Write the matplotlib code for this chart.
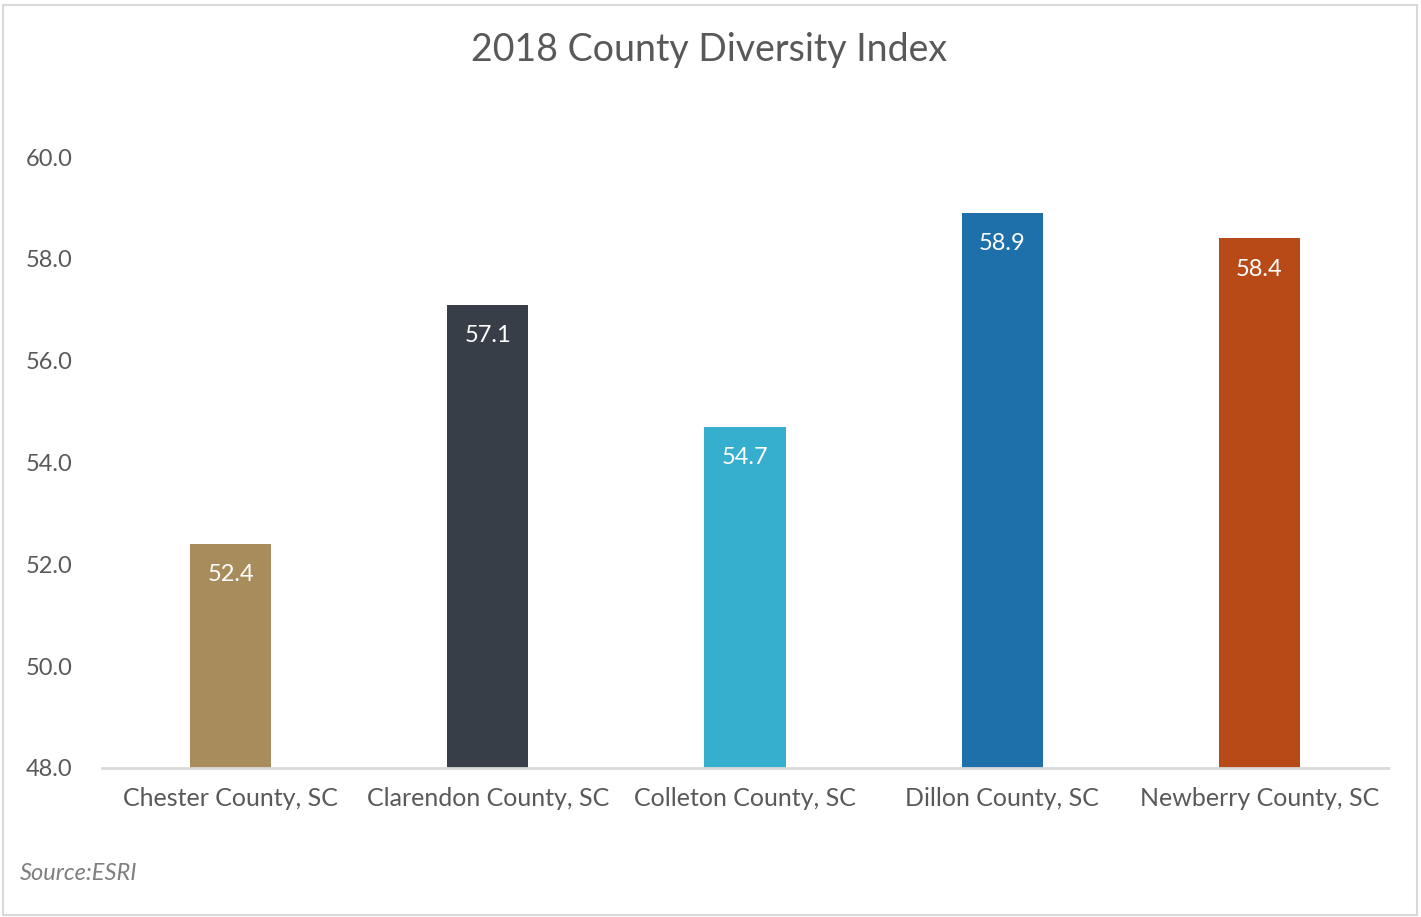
import matplotlib
matplotlib.use("Agg")
import matplotlib.pyplot as plt
from matplotlib.patches import Rectangle

plt.rcParams['font.family'] = ['Lato', 'DejaVu Sans']

categories = ["Chester County, SC", "Clarendon County, SC", "Colleton County, SC",
              "Dillon County, SC", "Newberry County, SC"]
values = [52.4, 57.1, 54.7, 58.9, 58.4]
colors = ["#a98c5c", "#373e47", "#36afce", "#1e70aa", "#b84a18"]
yticks = [48.0, 50.0, 52.0, 54.0, 56.0, 58.0, 60.0]

W, H, DPI = 1421, 917, 100
fig = plt.figure(figsize=(W / DPI, H / DPI), dpi=DPI)
fig.patch.set_facecolor("white")
fig.add_artist(Rectangle((3 / W, 2 / H), 1414 / W, 910 / H, transform=fig.transFigure,
                         fill=False, edgecolor="#d9d9d9", linewidth=1.5))

ax = fig.add_axes([102 / W, 1 - 768 / H, 1286 / W, (768 - 157) / H])
x = list(range(len(categories)))
ax.bar(x, values, width=0.315, color=colors, bottom=0)
ax.set_ylim(48, 60)
ax.set_xlim(-0.5, len(categories) - 0.5)
ax.set_yticks(yticks)
ax.set_yticklabels([f"{v:.1f}" for v in yticks])
ax.set_xticks(x)
ax.set_xticklabels(categories)
for s in ["top", "right", "left"]:
    ax.spines[s].set_visible(False)
ax.spines["bottom"].set_color("#d9d9d9")
ax.spines["bottom"].set_linewidth(2)
ax.tick_params(axis="both", length=0, colors="#595959")
ax.tick_params(axis="y", labelsize=17, pad=21)
ax.tick_params(axis="x", labelsize=18, pad=13.5)

for xi, v in zip(x, values):
    ax.annotate(f"{v:.1f}", (xi, v), xytext=(0, -22), textcoords="offset points",
                ha="center", va="center", color="white", fontsize=17)

fig.text(709 / W, 1 - 50 / H, "2018 County Diversity Index", ha="center", va="center",
         fontsize=27, color="#595959")
fig.text(20 / W, 1 - 874 / H, "Source:ESRI", ha="left", va="center", fontsize=17,
         color="#7f7f7f", style="italic")

fig.savefig("out.png", dpi=DPI, facecolor="white")
